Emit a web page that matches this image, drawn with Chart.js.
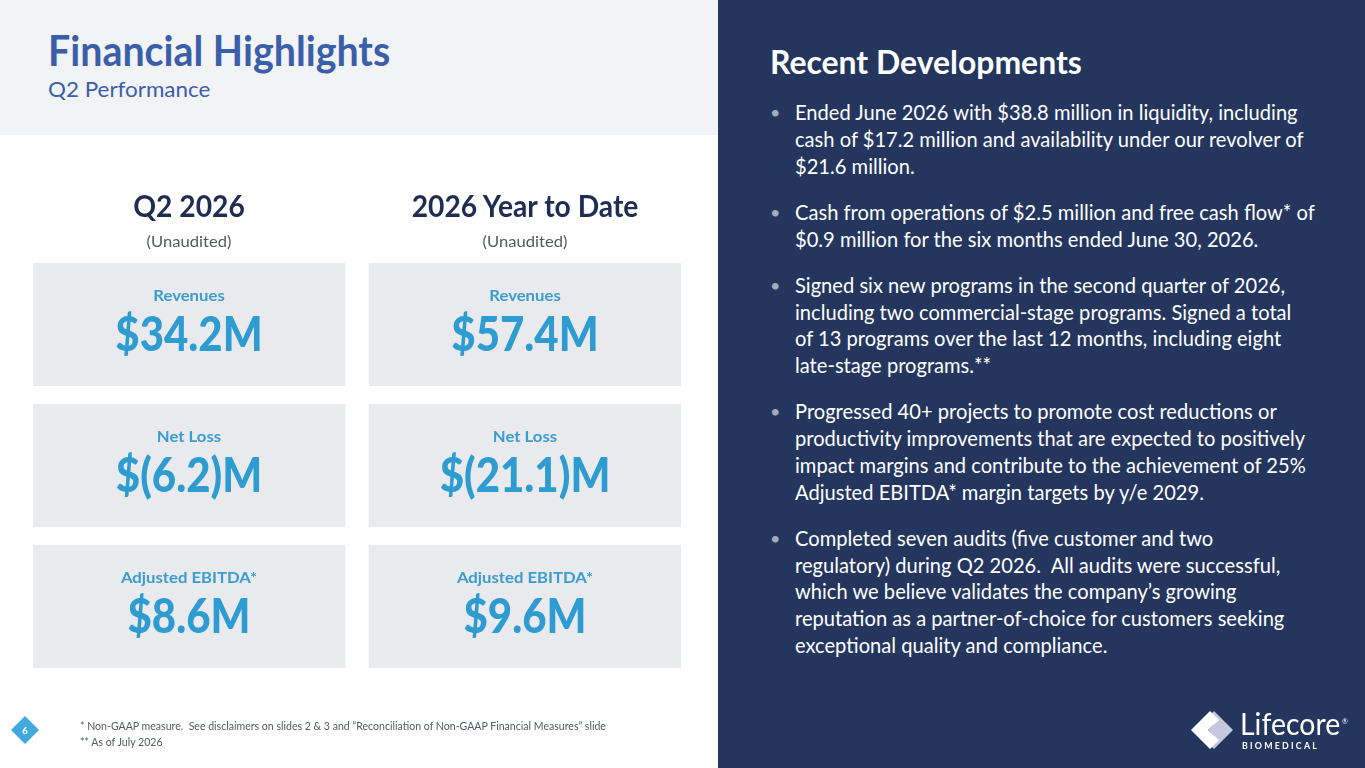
<!DOCTYPE html>
<html>
<head>
<meta charset="utf-8">
<script src="https://cdn.jsdelivr.net/npm/chart.js@4.4.1/dist/chart.umd.min.js"></script>
<style>
html,body{margin:0;padding:0;}
body{width:1365px;height:768px;position:relative;overflow:hidden;background:#ffffff;font-family:"Lato","Noto Sans",sans-serif;}
#band{position:absolute;left:0;top:0;width:718px;height:135px;background:#f2f3f5;}
#right{position:absolute;left:718px;top:0;width:647px;height:768px;background:#24365e;}
.abs{position:absolute;white-space:nowrap;}
.lft{transform-origin:left center;}
#title{left:48px;top:29px;font-size:42px;line-height:42px;font-weight:700;color:#3a5ea9;}
#subtitle{left:48px;top:78px;font-size:22px;line-height:22px;font-weight:400;color:#3a5ea9;}
#rdTitle{left:770px;top:46px;font-size:32px;line-height:32px;font-weight:700;color:#ffffff;}
#bul{position:absolute;left:795px;top:99px;width:560px;color:#ffffff;}
#bul .p{position:relative;margin:0 0 19.5px 0;}
#bul .ln{display:block;width:max-content;white-space:nowrap;font-size:22px;line-height:26.75px;height:26.75px;transform-origin:left center;}
#bul .dot{position:absolute;left:-25px;top:0;font-size:18px;line-height:26.75px;color:#a3abbd;}
#chartbox{position:absolute;left:0;top:254px;width:718px;height:423px;}
.ctr{line-height:1;}
.hdr{font-size:30px;font-weight:700;color:#1f2d52;}
.note{font-size:16px;color:#55595f;}
.tlab{font-size:16px;font-weight:700;color:#3a9ccf;}
.tval{font-size:48px;font-weight:900;color:#2e9bd1;}
.foot{left:80px;font-size:11.5px;line-height:16px;color:#555a60;}
#logoText{left:1240px;top:707.5px;font-size:31px;line-height:31px;font-weight:400;color:#ffffff;}
#logoReg{left:1342px;top:718px;font-size:7px;line-height:7px;color:#ffffff;}
#logoSub{left:1242px;top:740.5px;font-size:9.5px;line-height:9.5px;font-weight:700;letter-spacing:2.4px;color:#ffffff;}
</style>
</head>
<body>
<div id="band"></div>
<div id="right"></div>

<div id="title" class="abs lft">Financial Highlights</div>
<div id="subtitle" class="abs lft">Q2 Performance</div>

<div id="rdTitle" class="abs lft">Recent Developments</div>
<div id="bul"></div>

<div id="chartbox"><canvas id="c" width="718" height="423"></canvas></div>

<svg class="abs" style="left:0;top:0" width="1365" height="768" viewBox="0 0 1365 768">
  <polygon points="25,716 39,730 25,744 11,730" fill="#41a9dd"/>
  <text x="25" y="734" text-anchor="middle" font-family="Lato, sans-serif" font-size="10" font-weight="700" fill="#ffffff">6</text>
  <polygon points="1233,730 1214,711 1206,719 1218,730 1206,741 1214,749" fill="#c3c8dc"/>
  <polygon points="1191,730 1210,711 1219,720 1208,730 1219,740 1210,749" fill="#ffffff"/>
  <polygon points="1214,724 1220,730 1214,736 1208,730" fill="#c3c8dc"/>
</svg>
<div id="logoText" class="abs lft">Lifecore</div>
<div id="logoReg" class="abs">®</div>
<div id="logoSub" class="abs lft">BIOMEDICAL</div>

<div id="foot1" class="abs foot lft" style="top:718px;">* Non-GAAP measure.&nbsp; See disclaimers on slides 2 &amp; 3 and “Reconciliation of Non-GAAP Financial Measures” slide</div>
<div id="foot2" class="abs foot lft" style="top:734px;">** As of July 2026</div>

<script>
// ---- Data ----
const periods = ["Q2 2026", "2026 Year to Date"];
const periodNotes = ["(Unaudited)", "(Unaudited)"];
const metrics = ["Revenues", "Net Loss", "Adjusted EBITDA*"];
const q2Values = [34.2, -6.2, 8.6];      // $ millions
const ytdValues = [57.4, -21.1, 9.6];    // $ millions
const valueUnit = "M";
const developments = [
  ["Ended June 2026 with $38.8 million in liquidity, including",
   "cash of $17.2 million and availability under our revolver of",
   "$21.6 million."],
  ["Cash from operations of $2.5 million and free cash flow* of",
   "$0.9 million for the six months ended June 30, 2026."],
  ["Signed six new programs in the second quarter of 2026,",
   "including two commercial-stage programs. Signed a total",
   "of 13 programs over the last 12 months, including eight",
   "late-stage programs.**"],
  ["Progressed 40+ projects to promote cost reductions or",
   "productivity improvements that are expected to positively",
   "impact margins and contribute to the achievement of 25%",
   "Adjusted EBITDA* margin targets by y/e 2029."],
  ["Completed seven audits (five customer and two",
   "regulatory) during Q2 2026.\u00a0 All audits were successful,",
   "which we believe validates the company\u2019s growing",
   "reputation as a partner-of-choice for customers seeking",
   "exceptional quality and compliance."]
];

const valuesByPeriod = [q2Values, ytdValues];
function fmt(v){
  const a = Math.abs(v).toFixed(1);
  return v < 0 ? "$(" + a + ")" + valueUnit : "$" + a + valueUnit;
}

// ---- Bullets ----
const bul = document.getElementById('bul');
developments.forEach(lines => {
  const p = document.createElement('div'); p.className = 'p';
  const d = document.createElement('span'); d.className = 'dot'; d.textContent = '\u2022'; p.appendChild(d);
  lines.forEach(t => { const l = document.createElement('span'); l.className = 'ln'; l.textContent = t; p.appendChild(l); });
  bul.appendChild(p);
});

function addCentered(cls, text, cx, cy){
  const e = document.createElement('div');
  e.className = 'abs ctr ' + cls;
  e.textContent = text;
  e.style.left = cx + 'px';
  e.style.top = cy + 'px';
  e.dataset.base = 'translate(-50%,-50%)';
  e.style.transform = e.dataset.base;
  document.body.appendChild(e);
  return e;
}

function fitGroup(els, ref, target){
  const w = ref.offsetWidth;
  if (!w) return;
  const s = target / w;
  els.forEach(e => { e.style.transform = (e.dataset.base || '') + ' scaleX(' + s + ')'; });
}

const GAP = 9;
const overlay = {
  id: 'overlay',
  afterRender(chart){
    if (chart.$built) return;
    chart.$built = true;
    const box = chart.canvas.parentNode;
    const ox = box.offsetLeft, oy = box.offsetTop;
    const hdrs = [], notes = [], labs = [], vals = [];
    periods.forEach((p, j) => {
      const cx = ox + chart.scales.x.getPixelForValue(j);
      hdrs.push(addCentered('hdr', p, cx, 205));
      notes.push(addCentered('note', periodNotes[j], cx, 241));
    });
    metrics.forEach((m, i) => {
      const meta = chart.getDatasetMeta(i);
      meta.data.forEach((el, j) => {
        const top = oy + Math.min(el.y, el.base) + GAP;
        const cx = ox + el.x;
        labs.push(addCentered('tlab', m, cx, top + 32));
        vals.push(addCentered('tval', fmt(valuesByPeriod[j][i]), cx, top + 70));
      });
    });
    const $ = id => document.getElementById(id);
    const doFit = () => {
      fitGroup(hdrs, hdrs[0], 112);
      fitGroup(notes, notes[0], 85);
      fitGroup(labs, labs[0], 71);
      fitGroup(vals, vals[0], 147);
      fitGroup([$('title')], $('title'), 342);
      fitGroup([$('subtitle')], $('subtitle'), 162);
      fitGroup([$('rdTitle')], $('rdTitle'), 312);
      const lns = Array.from(document.querySelectorAll('#bul .ln'));
      fitGroup(lns, lns[0], 503);
      fitGroup([$('foot1'), $('foot2')], $('foot1'), 526);
      fitGroup([$('logoText')], $('logoText'), 100);
      fitGroup([$('logoSub')], $('logoSub'), 77);
    };
    doFit();
    if (document.fonts && document.fonts.ready) document.fonts.ready.then(doFit);
  }
};

new Chart(document.getElementById('c'), {
  type: 'bar',
  data: {
    labels: periods,
    datasets: metrics.map((m, i) => ({
      label: m,
      data: periods.map(() => [i, i + 1]),
      backgroundColor: '#e9eaed',
      borderColor: '#ffffff',
      borderWidth: {top: GAP, bottom: GAP, left: 0, right: 0},
      borderSkipped: false,
      borderRadius: 0,
      grouped: false,
      barPercentage: 1,
      categoryPercentage: 313 / 336
    }))
  },
  options: {
    responsive: false,
    animation: false,
    devicePixelRatio: 1,
    layout: {padding: {left: 21.5, right: 25.5, top: 0, bottom: 0}},
    plugins: {legend: {display: false}, tooltip: {enabled: false}, title: {display: false}},
    scales: {
      x: {display: false, offset: true},
      y: {display: false, min: 0, max: 3, reverse: true}
    }
  },
  plugins: [overlay]
});
</script>
</body>
</html>
